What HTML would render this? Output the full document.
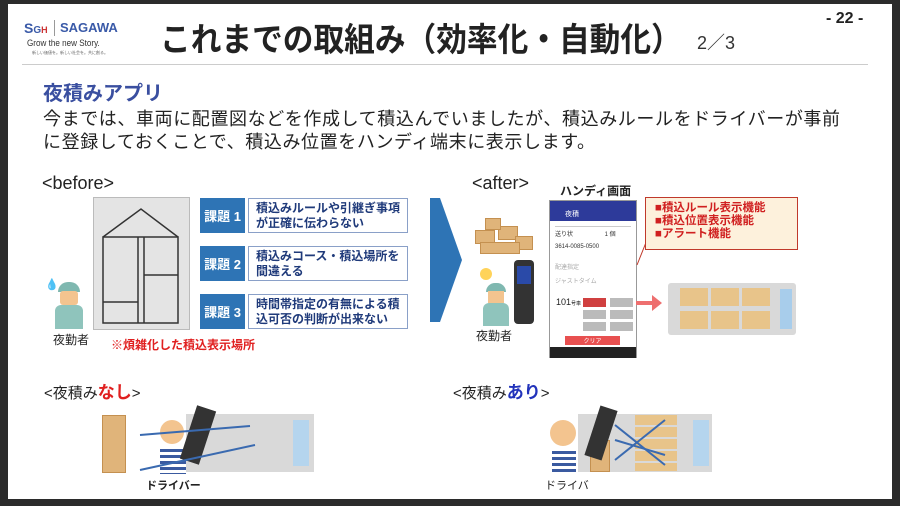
<!DOCTYPE html>
<html><head><meta charset="utf-8"><style>
*{margin:0;padding:0;box-sizing:border-box}
body{width:900px;height:506px;background:#2b2b2b;position:relative;overflow:hidden;font-family:"Liberation Sans","Noto Sans CJK JP",sans-serif}
.slide{position:absolute;left:8px;top:4px;width:884px;height:495px;background:#fff}
.a{position:absolute;white-space:nowrap}
.lab{position:absolute;left:200px;width:45px;height:35px;background:#2e74b5;color:#fff;font-weight:bold;font-size:13px;display:flex;align-items:center;justify-content:center}
.box{position:absolute;left:248px;width:160px;height:35px;border:1.5px solid #8aa0c8;background:#fff;color:#1f3a7a;font-weight:bold;font-size:12px;line-height:15px;padding:2px 0 0 7px}
.cb{position:absolute;width:13px;height:11px;background:#e0b47a;border:1px solid #c49050}
</style></head><body>
<div class="slide"></div>
<!-- logo -->
<div class="a" style="left:24px;top:20px;font-size:14px;font-weight:bold;color:#3a5aa8">S<span style="font-size:10px">G</span><span style="font-size:9px;color:#c33">H</span></div>
<div class="a" style="left:54px;top:20px;width:1px;height:16px;background:#999"></div>
<div class="a" style="left:60px;top:20px;font-size:13px;font-weight:bold;color:#3a5aa8">SAGAWA</div>
<div class="a" style="left:27px;top:38px;font-size:9px;color:#333;transform:scaleX(.9);transform-origin:left">Grow the new Story.</div>
<div class="a" style="left:32px;top:50px;font-size:4px;color:#666">新しい価値を。新しい社会を。共に創る。</div>
<div class="a" style="left:160px;top:13px;font-size:33px;font-weight:bold;color:#222;transform:scaleX(0.93);transform-origin:left">これまでの取組み（効率化・自動化）</div>
<div class="a" style="left:697px;top:29px;font-size:18px;color:#333">2／3</div>
<div class="a" style="left:826px;top:10px;font-size:16px;font-weight:bold;color:#222">- 22 -</div>
<div class="a" style="left:22px;top:64px;width:846px;height:1px;background:#ccc"></div>
<div class="a" style="left:43px;top:77px;font-size:20px;font-weight:bold;color:#3a4fa0">夜積みアプリ</div>
<div class="a" style="left:43px;top:108px;font-size:18px;color:#222;line-height:23px;letter-spacing:0.6px">今までは、車両に配置図などを作成して積込んでいましたが、積込みルールをドライバーが事前<br>に登録しておくことで、積込み位置をハンディ端末に表示します。</div>
<!-- before -->
<div class="a" style="left:42px;top:173px;font-size:18px;color:#222">&lt;before&gt;</div>
<div class="a" style="left:93px;top:197px;width:97px;height:133px;background:#e4e4e4;border:1px solid #bbb"></div>
<svg class="a" style="left:93px;top:197px" width="97" height="133"><g fill="none" stroke="#333" stroke-width="1.5"><polyline points="10,40 48,12 85,40"/><rect x="10" y="40" width="75" height="86"/><line x1="45" y1="40" x2="45" y2="126"/><line x1="51" y1="40" x2="51" y2="126"/><line x1="51" y1="78" x2="85" y2="78"/><line x1="10" y1="105" x2="45" y2="105"/></g></svg>
<div class="lab" style="top:198px">課題 1</div><div class="box" style="top:198px">積込みルールや引継ぎ事項<br>が正確に伝わらない</div>
<div class="lab" style="top:246px">課題 2</div><div class="box" style="top:246px">積込みコース・積込場所を<br>間違える</div>
<div class="lab" style="top:294px">課題 3</div><div class="box" style="top:294px">時間帯指定の有無による積<br>込可否の判断が出来ない</div>
<!-- person -->
<div class="a" style="left:58px;top:282px;width:22px;height:10px;background:#7fb8b0;border-radius:10px 10px 0 0"></div>
<div class="a" style="left:60px;top:291px;width:18px;height:14px;background:#f3c48f;border-radius:3px"></div>
<div class="a" style="left:55px;top:305px;width:28px;height:24px;background:#8fc4bc;border-radius:6px 6px 0 0"></div>
<div class="a" style="left:45px;top:278px;color:#2a8fd0;font-size:11px">💧</div>
<div class="a" style="left:53px;top:331px;font-size:12px;color:#222">夜勤者</div>
<div class="a" style="left:111px;top:336px;font-size:12px;font-weight:bold;color:#e02020">※煩雑化した積込表示場所</div>
<!-- big arrow -->
<svg class="a" style="left:428px;top:198px" width="36" height="124"><polygon points="2,0 12,0 34,62 12,124 2,124" fill="#2e74b5"/></svg>
<!-- after -->
<div class="a" style="left:472px;top:173px;font-size:18px;color:#222">&lt;after&gt;</div>
<div class="cb" style="left:475px;top:230px;width:20px;height:14px"></div><div class="cb" style="left:498px;top:226px;width:20px;height:14px"></div><div class="cb" style="left:515px;top:236px;width:18px;height:14px"></div><div class="cb" style="left:480px;top:242px;width:40px;height:12px"></div><div class="cb" style="left:485px;top:218px;width:16px;height:12px"></div>
<div class="a" style="left:480px;top:268px;width:12px;height:12px;background:#ffd35a;border-radius:50%"></div>
<div class="a" style="left:486px;top:283px;width:20px;height:9px;background:#7fb8b0;border-radius:9px 9px 0 0"></div>
<div class="a" style="left:488px;top:291px;width:16px;height:12px;background:#f3c48f"></div>
<div class="a" style="left:483px;top:303px;width:26px;height:23px;background:#8fc4bc;border-radius:6px 6px 0 0"></div>
<div class="a" style="left:514px;top:260px;width:20px;height:64px;background:#333;border-radius:4px"></div>
<div class="a" style="left:517px;top:266px;width:14px;height:18px;background:#2a4aa8"></div>
<div class="a" style="left:476px;top:327px;font-size:12px;color:#222">夜勤者</div>
<div class="a" style="left:560px;top:182px;font-size:12px;font-weight:bold;color:#222">ハンディ画面</div>
<!-- phone -->
<div class="a" style="left:549px;top:200px;width:88px;height:158px;background:#fff;border:1px solid #999"></div>
<div class="a" style="left:550px;top:201px;width:86px;height:20px;background:#2d3a9a"></div>
<div class="a" style="left:565px;top:209px;font-size:7px;color:#fff">夜積</div>
<div class="a" style="left:555px;top:226px;width:76px;height:1px;background:#ccc"></div>
<div class="a" style="left:555px;top:229px;font-size:6px;color:#333">送り状　　　　　 1 個</div>
<div class="a" style="left:555px;top:244px;font-size:6px;color:#333">3614-0085-0500</div>
<div class="a" style="left:555px;top:262px;font-size:6px;color:#aaa">配達指定</div>
<div class="a" style="left:555px;top:276px;font-size:6px;color:#aaa">ジャストタイム</div>
<div class="a" style="left:556px;top:297px;font-size:9px;color:#222">101<span style="font-size:5px">号車</span></div>
<div class="a" style="left:583px;top:298px;width:23px;height:9px;background:#d04040"></div>
<div class="a" style="left:610px;top:298px;width:23px;height:9px;background:#bbb"></div>
<div class="a" style="left:583px;top:310px;width:23px;height:9px;background:#bbb"></div>
<div class="a" style="left:610px;top:310px;width:23px;height:9px;background:#bbb"></div>
<div class="a" style="left:583px;top:322px;width:23px;height:9px;background:#bbb"></div>
<div class="a" style="left:610px;top:322px;width:23px;height:9px;background:#bbb"></div>
<div class="a" style="left:565px;top:336px;width:55px;height:9px;background:#e85050;color:#fff;font-size:6px;text-align:center">クリア</div>
<div class="a" style="left:550px;top:347px;width:86px;height:11px;background:#222"></div>
<!-- callout -->
<svg class="a" style="left:630px;top:240px" width="30" height="30"><line x1="17" y1="0" x2="7" y2="25" stroke="#c0392b"/></svg>
<div class="a" style="left:645px;top:197px;width:153px;height:53px;background:#fdf1dc;border:1.5px solid #c0392b;color:#d02020;font-weight:bold;font-size:11.5px;line-height:13px;padding:4px 0 0 9px">■積込ルール表示機能<br>■積込位置表示機能<br>■アラート機能</div>
<svg class="a" style="left:634px;top:293px" width="30" height="20"><polygon points="2,8 18,8 18,2 28,10 18,18 18,12 2,12" fill="#ee6f6f"/></svg>
<!-- truck -->
<div class="a" style="left:668px;top:283px;width:128px;height:52px;background:#d9d9d9;border-radius:3px"></div>
<div class="a" style="left:778px;top:287px;width:16px;height:44px;background:#a8cdeb;border:2px solid #d9d9d9"></div>
<div class="a" style="left:680px;top:288px;width:90px;height:18px;background:repeating-linear-gradient(90deg,#e8c48a 0 28px,#d9d9d9 28px 31px)"></div>
<div class="a" style="left:680px;top:311px;width:90px;height:18px;background:repeating-linear-gradient(90deg,#e8c48a 0 28px,#d9d9d9 28px 31px)"></div>
<!-- bottom -->
<div class="a" style="left:44px;top:378px;font-size:15px;color:#222">&lt;夜積み<b style="color:#e02020;font-size:17px">なし</b>&gt;</div>
<div class="a" style="left:453px;top:378px;font-size:15px;color:#222">&lt;夜積み<b style="color:#2233bb;font-size:17px">あり</b>&gt;</div>
<div class="a" style="left:186px;top:414px;width:128px;height:58px;background:#d9d9d9"></div>
<div class="a" style="left:290px;top:417px;width:22px;height:52px;background:#b5d5ee;border:3px solid #d9d9d9"></div>
<div class="cb" style="left:102px;top:415px;width:24px;height:58px;background:#e0b47a"></div>
<div class="a" style="left:160px;top:420px;width:24px;height:24px;background:#f3c48f;border-radius:50%"></div>
<div class="a" style="left:160px;top:446px;width:26px;height:28px;background:repeating-linear-gradient(#fff 0 3px,#3a5aa0 3px 6px)"></div>
<div class="a" style="left:188px;top:407px;width:20px;height:56px;background:#333;transform:rotate(18deg)"></div>
<svg class="a" style="left:130px;top:420px" width="140" height="60"><g stroke="#3a6ab0" stroke-width="2" fill="#3a6ab0"><line x1="10" y1="15" x2="120" y2="6"/><line x1="10" y1="50" x2="125" y2="25"/></g></svg>
<div class="a" style="left:146px;top:477px;font-size:11px;font-weight:bold;color:#222">ドライバー</div>
<div class="a" style="left:578px;top:414px;width:134px;height:58px;background:#d9d9d9"></div>
<div class="a" style="left:690px;top:417px;width:22px;height:52px;background:#b5d5ee;border:3px solid #d9d9d9"></div>
<div class="a" style="left:635px;top:415px;width:42px;height:56px;background:repeating-linear-gradient(#e8c48a 0 10px,#d9d9d9 10px 12px)"></div>
<div class="cb" style="left:590px;top:440px;width:20px;height:32px"></div>
<div class="a" style="left:550px;top:420px;width:26px;height:26px;background:#f3c48f;border-radius:50%"></div>
<div class="a" style="left:552px;top:448px;width:24px;height:26px;background:repeating-linear-gradient(#fff 0 3px,#3a5aa0 3px 6px)"></div>
<div class="a" style="left:592px;top:407px;width:18px;height:52px;background:#333;transform:rotate(18deg)"></div>
<svg class="a" style="left:610px;top:415px" width="60" height="60"><g stroke="#3a6ab0" stroke-width="2"><line x1="5" y1="10" x2="55" y2="50"/><line x1="5" y1="45" x2="55" y2="5"/><line x1="5" y1="25" x2="55" y2="40"/></g></svg>
<div class="a" style="left:545px;top:477px;font-size:11px;color:#222">ドライバ</div>
</body></html>
